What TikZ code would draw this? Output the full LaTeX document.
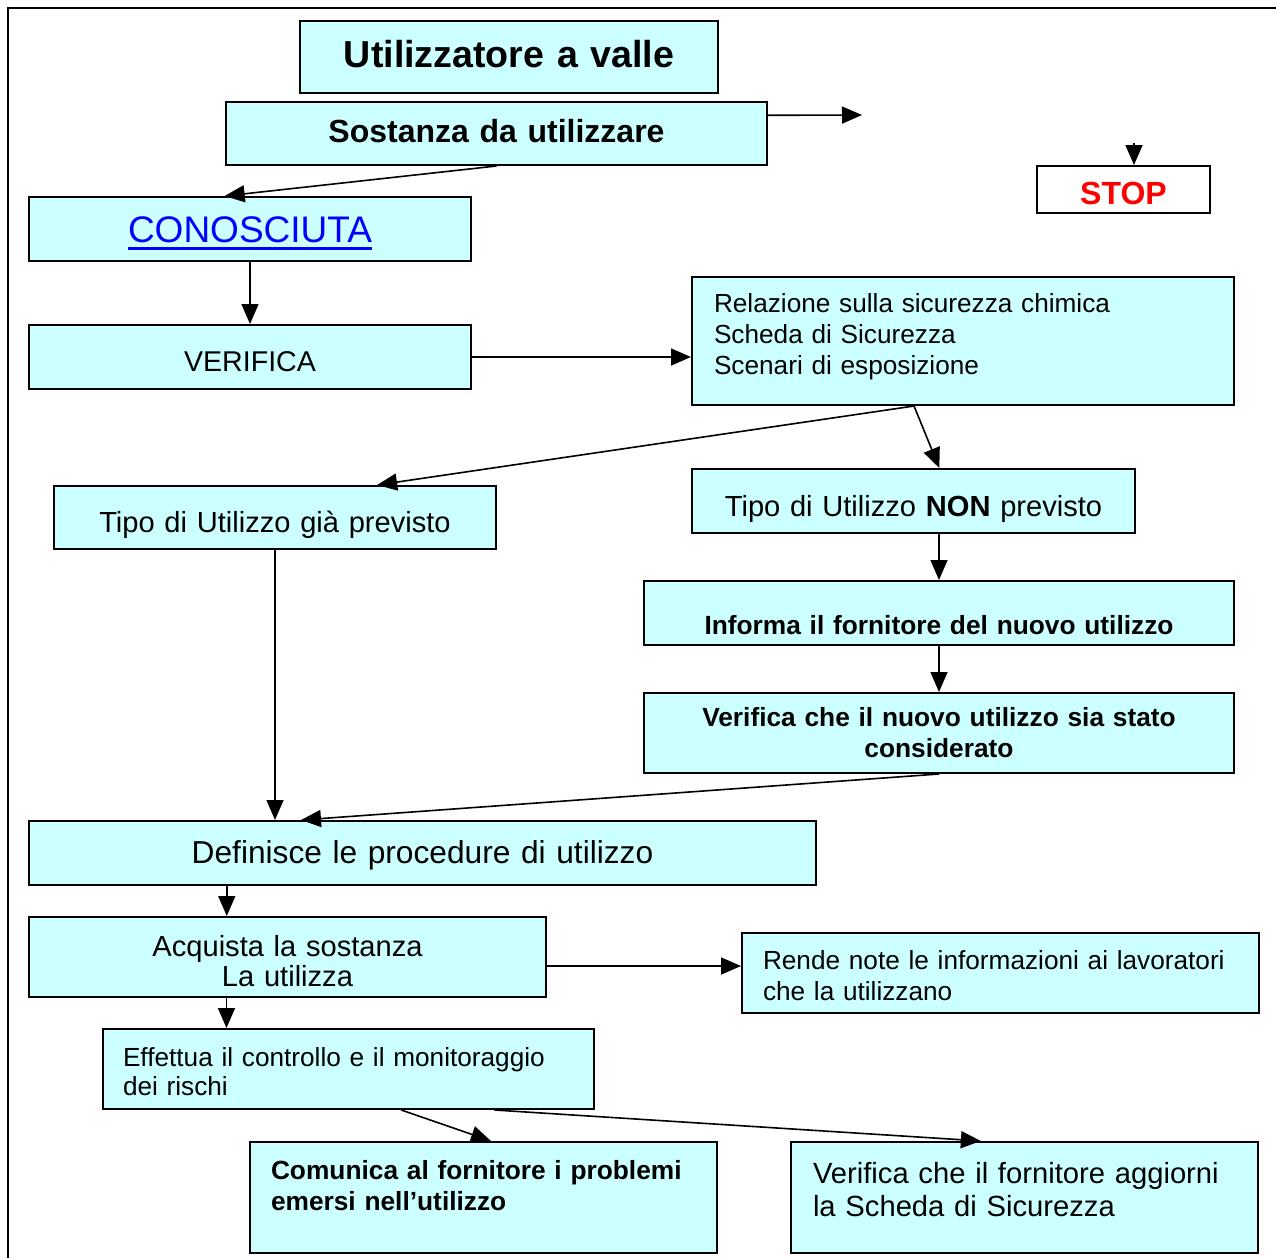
\documentclass[tikz,border=0pt]{standalone}
\usepackage{fontspec}
\setmainfont{Liberation Sans}
\usetikzlibrary{arrows.meta}
\usetikzlibrary{calc}
\usetikzlibrary{positioning}
\definecolor{boxcyan}{HTML}{CCFFFF}
\newcommand{\fsz}[2]{\fontsize{#1}{#2}\selectfont}
\newcommand{\thickul}[1]{\leavevmode\setbox0\hbox{#1}\rlap{\rule[-3.6pt]{\wd0}{1.5pt}}\box0}
\tikzset{every picture/.style={line width=0.8pt},
box/.style={draw,fill=boxcyan,line width=1pt,anchor=north west,inner ysep=0pt,inner xsep=0pt,align=center},
dims/.style n args={3}{text width=#1,text height=#2,text depth=#3},
flow/.style={-{Triangle[length=10pt,width=8.5pt]}}}

\begin{document}
\begin{tikzpicture}[x=0.5pt,y=-0.5pt]
\useasboundingbox (0,0) rectangle (1276,1258);
\draw[line width=1pt] (8,1258) -- (8,8) -- (1276,8);
% top
\node (title) at (299,20) [box,dims={209pt}{23.5pt}{12.5pt},font=\fsz{18.8}{22}\bfseries] {Utilizzatore a valle};
\node (sost) at (225,101) [box,dims={270.5pt}{20.4pt}{11.1pt},font=\fsz{16}{19}\bfseries] {Sostanza da utilizzare};
\node (stop) at (1036,165) [box,fill=white,dims={86.5pt}{19pt}{4.5pt},font=\fsz{16}{19}\bfseries,text=red] {STOP};
\coordinate (sostout) at (862,115);
\coordinate (stopin) at (1134,143);
\node (cono) at (28,196) [box,dims={221pt}{22.9pt}{9.1pt},font=\fsz{18.5}{22},text=blue] {\thickul{CONOSCIUTA}};
\node (verif) at (28,324) [box,dims={221pt}{23pt}{9pt},font=\fsz{14.3}{17}] {VERIFICA};
\node (rel) at (691,276) [box,align=left,inner xsep=11pt,dims={249pt}{17.75pt}{46.25pt},font=\fsz{13.1}{15.5}] {Relazione sulla sicurezza chimica\\Scheda di Sicurezza\\Scenari di esposizione};
% two uses
\node (tipogia) at (53,485) [box,dims={221pt}{23.2pt}{8.3pt},font=\fsz{14.55}{17}] {Tipo di Utilizzo già previsto};
\node (tiponon) at (691,468) [box,dims={221.5pt}{23.7pt}{8.3pt},font=\fsz{14.55}{17}] {Tipo di Utilizzo \textbf{NON} previsto};
\node (informa) at (643,580) [box,dims={295pt}{26.5pt}{5.5pt},font=\fsz{13.15}{15.5}\bfseries] {Informa il fornitore del nuovo utilizzo};
\node (vnuovo) at (643,692) [box,dims={295pt}{16.75pt}{23.25pt},font=\fsz{13.15}{15.5}\bfseries] {Verifica che il nuovo utilizzo sia stato\\considerato};
% procedures
\node (defin) at (28,820) [box,dims={393.5pt}{21.25pt}{10.75pt},font=\fsz{15.85}{19}] {Definisce le procedure di utilizzo};
\node (acq) at (28,916) [box,dims={258.5pt}{19.5pt}{20.5pt},font=\fsz{14.55}{15}] {Acquista la sostanza\\La utilizza};
\node (rende) at (741,932) [box,align=left,inner xsep=10.5pt,dims={237.5pt}{18.25pt}{21.75pt},font=\fsz{13.1}{15.5}] {Rende note le informazioni ai lavoratori\\che la utilizzano};
\node (eff) at (102,1028) [box,align=left,inner xsep=10pt,dims={225.5pt}{18.5pt}{21.5pt},font=\fsz{13.1}{14.8}] {Effettua il controllo e il monitoraggio\\dei rischi};
\node (comun) at (249,1141) [box,align=left,inner xsep=10.5pt,dims={212.5pt}{18.5pt}{37pt},font=\fsz{13.15}{15.5}\bfseries] {Comunica al fornitore i problemi\\emersi nell’utilizzo};
\node (vforn) at (790,1141) [box,align=left,inner xsep=11pt,dims={211.5pt}{20.5pt}{35pt},font=\fsz{14.6}{16.5}] {Verifica che il fornitore aggiorni\\la Scheda di Sicurezza};
% connector ends
\coordinate (relout) at ($(rel.south west)!0.41!(rel.south east)$);
\coordinate (acqin) at ($(acq.north west)!0.383!(acq.north east)$);
\coordinate (acqout) at ($(acq.north east)!0.61!(acq.south east)$);
\coordinate (effin) at ($(eff.north west)!0.2525!(eff.north east)$);
% connectors
\draw[flow] ($(sost.north east)!0.22!(sost.south east)$) -- (sostout);
\draw[flow] (stopin) -- (stopin |- stop.north);
\draw[flow] (sost.south) -- ($(cono.north west)!0.443!(cono.north east)$);
\draw[flow] (cono.south) -- (verif.north);
\draw[flow] (verif.east) -- (verif.east -| rel.west);
\draw[flow] (relout) -- ($(tipogia.north west)!0.73!(tipogia.north east)$);
\draw[flow] (relout) -- ($(tiponon.north west)!0.558!(tiponon.north east)$);
\draw[flow] (informa.north |- tiponon.south) -- (informa.north);
\draw[flow] (informa.south) -- (vnuovo.north);
\draw[flow] (vnuovo.south) -- ($(defin.north west)!0.346!(defin.north east)$);
\draw[flow] (tipogia.south) -- (tipogia.south |- defin.north);
\draw[flow] (acqin |- defin.south) -- (acqin);
\draw[flow] (acqout) -- (acqout -| rende.west);
\draw[flow] (effin |- acq.south) -- (effin);
\draw[flow] ($(eff.south west)!0.607!(eff.south east)$) -- ($(comun.north west)!0.516!(comun.north east)$);
\draw[flow] ($(eff.south west)!0.796!(eff.south east)$) -- ($(vforn.north west)!0.407!(vforn.north east)$);
\end{tikzpicture}
\end{document}
